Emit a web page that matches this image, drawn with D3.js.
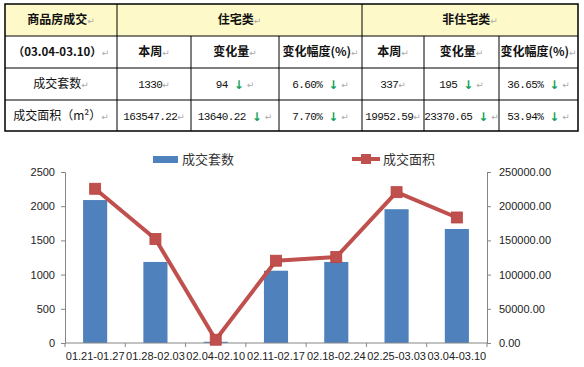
<!DOCTYPE html>
<html>
<head>
<meta charset="utf-8">
<script src="https://cdn.jsdelivr.net/npm/d3@7"></script>
<style>
  body { margin: 0; background: #fff; }
  svg { display: block; }
</style>
</head>
<body>
<div id="mycanvas"></div>
<script>
const width = 584;
const height = 367;

// ---- table data ----
const headTop = ["商品房成交", "住宅类", "非住宅类"];
const headSub = ["（03.04-03.10）", "本周", "变化量", "变化幅度(%)", "本周", "变化量", "变化幅度(%)"];
const rowNames = ["成交套数", "成交面积（m²）"];
const rowCount = ["1330", "94", "6.60%", "337", "195", "36.65%"];
const rowArea = ["163547.22", "13640.22", "7.70%", "19952.59", "23370.65", "53.94%"];
const rowDown = [false, true, true, false, true, true];

// ---- chart data ----
const weeks = ["01.21-01.27", "01.28-02.03", "02.04-02.10", "02.11-02.17", "02.18-02.24", "02.25-03.03", "03.04-03.10"];
const dealCount = [2090, 1185, 18, 1057, 1185, 1956, 1667];
const dealArea = [225500, 152000, 4800, 120300, 125700, 220510.68, 183499.81];
const leftTicks = [0, 500, 1000, 1500, 2000, 2500];
const rightTicks = [0, 50000, 100000, 150000, 200000, 250000];

const svg = d3
  .select("#mycanvas")
  .append("svg")
  .attr("width", width)
  .attr("height", height);

// ================= table =================
const colX = [5, 117, 191, 279, 362, 424, 499, 578];
const rowY = [4, 36, 68, 100, 131];
const cjk = "'Noto Sans CJK SC', sans-serif";
const mono = "'Liberation Mono', 'DejaVu Sans Mono', monospace";

const tbl = svg.append("g");

tbl.append("rect")
  .attr("x", colX[0]).attr("y", rowY[0])
  .attr("width", colX[7] - colX[0]).attr("height", rowY[1] - rowY[0])
  .attr("fill", "#fdf9c8");

const cell = (c0, c1, r, parts, opt = {}) => {
  const t = tbl.append("text")
    .attr("x", (colX[c0] + colX[c1]) / 2)
    .attr("y", (rowY[r] + rowY[r + 1]) / 2 + 1)
    .attr("text-anchor", "middle")
    .attr("dominant-baseline", "middle")
    .attr("font-family", opt.font || cjk)
    .attr("font-size", opt.size || 12)
    .attr("font-weight", opt.bold ? "bold" : "normal")
    .attr("fill", "#111");
  t.append("tspan").attr("letter-spacing", opt.spacing || 0).text(parts.text);
  if (parts.down) {
    t.append("tspan").attr("font-family", "'DejaVu Sans', sans-serif")
      .attr("font-weight", "bold").attr("fill", "#12a05a").attr("font-size", 12).text("↓");
  }
  t.append("tspan").attr("font-family", "'DejaVu Sans', sans-serif")
    .attr("font-weight", "normal").attr("fill", "#aaa").attr("font-size", 9).text(parts.down ? " ↵" : "↵");
};

// header row
cell(0, 1, 0, { text: headTop[0] }, { bold: true, size: 12 });
cell(1, 4, 0, { text: headTop[1] }, { bold: true, size: 12 });
cell(4, 7, 0, { text: headTop[2] }, { bold: true, size: 12 });
headSub.forEach((h, i) => cell(i, i + 1, 1, { text: h }, { bold: true, size: i === 0 ? 11.5 : 12 }));
cell(0, 1, 2, { text: rowNames[0] }, { size: 12 });
cell(0, 1, 3, { text: rowNames[1] }, { size: 12 });
rowCount.forEach((v, i) => cell(i + 1, i + 2, 2, { text: v + (rowDown[i] ? " " : ""), down: rowDown[i] }, { font: mono, size: 11, spacing: -0.6 }));
rowArea.forEach((v, i) => cell(i + 1, i + 2, 3, { text: v + (rowDown[i] ? " " : ""), down: rowDown[i] }, { font: mono, size: 11, spacing: -0.6 }));

// grid lines
rowY.slice(1, 4).forEach((y) => {
  tbl.append("line").attr("x1", colX[0]).attr("x2", colX[7]).attr("y1", y).attr("y2", y)
    .attr("stroke", "#000").attr("stroke-width", 1);
});
colX.slice(1, 7).forEach((x, i) => {
  const top = (i + 1 === 1 || i + 1 === 4) ? rowY[0] : rowY[1];
  tbl.append("line").attr("x1", x).attr("x2", x).attr("y1", top).attr("y2", rowY[4])
    .attr("stroke", "#000").attr("stroke-width", 1);
});
tbl.append("rect")
  .attr("x", colX[0]).attr("y", rowY[0])
  .attr("width", colX[7] - colX[0]).attr("height", rowY[4] - rowY[0])
  .attr("fill", "none").attr("stroke", "#000").attr("stroke-width", 1.5);

// ================= chart =================
const plotL = 65, plotR = 487, plotT = 172, plotB = 343;
const axisFont = "'Liberation Sans', Arial, sans-serif";

const x = d3.scaleBand().domain(weeks).range([plotL, plotR]).paddingInner(0.6).paddingOuter(0.3);
const yL = d3.scaleLinear().domain([0, 2500]).range([plotB, plotT]);
const yR = d3.scaleLinear().domain([0, 250000]).range([plotB, plotT]);
const step = x.step();

const chart = svg.append("g");

// bars
chart.selectAll("rect.bar")
  .data(weeks)
  .join("rect")
  .attr("class", "bar")
  .attr("x", (d) => x(d))
  .attr("width", x.bandwidth())
  .attr("y", (d, i) => yL(dealCount[i]))
  .attr("height", (d, i) => plotB - yL(dealCount[i]))
  .attr("fill", "#4f81bd");

// left axis
const axL = chart.append("g")
  .attr("transform", `translate(${plotL},0)`)
  .call(d3.axisLeft(yL).tickValues(leftTicks).tickFormat(d3.format("d")).tickSize(4).tickPadding(6));
// right axis
const axR = chart.append("g")
  .attr("transform", `translate(${plotR},0)`)
  .call(d3.axisRight(yR).tickValues(rightTicks).tickFormat(d3.format(".2f")).tickSize(4).tickPadding(8));
// bottom axis
const axB = chart.append("g")
  .attr("transform", `translate(0,${plotB})`)
  .call(d3.axisBottom(x).tickSize(0).tickPadding(9));
chart.append("g")
  .selectAll("line")
  .data(d3.range(weeks.length + 1))
  .join("line")
  .attr("x1", (d) => plotL + d * step)
  .attr("x2", (d) => plotL + d * step)
  .attr("y1", plotB)
  .attr("y2", plotB + 4)
  .attr("stroke", "#868686");

[axL, axR, axB].forEach((a) => {
  a.selectAll(".domain").attr("stroke", "#868686");
  a.selectAll(".tick line").attr("stroke", "#868686");
  a.selectAll("text").attr("font-family", axisFont).attr("font-size", 11).attr("fill", "#222");
});
axB.select(".domain").attr("d", `M${plotL},0H${plotR}`);

// line
const line = d3.line()
  .x((d, i) => x(weeks[i]) + x.bandwidth() / 2)
  .y((d) => yR(d));

chart.append("path")
  .datum(dealArea)
  .attr("d", line)
  .attr("fill", "none")
  .attr("stroke", "#c0504d")
  .attr("stroke-width", 4)
  .attr("stroke-linejoin", "round");

chart.selectAll("rect.mk")
  .data(dealArea)
  .join("rect")
  .attr("class", "mk")
  .attr("x", (d, i) => x(weeks[i]) + x.bandwidth() / 2 - 5.5)
  .attr("y", (d) => yR(d) - 5.5)
  .attr("width", 11)
  .attr("height", 11)
  .attr("fill", "#c0504d")
  .attr("stroke", "#b8433f")
  .attr("stroke-width", 0.8);

// legend
const lg = svg.append("g");
lg.append("rect").attr("x", 153).attr("y", 156).attr("width", 25).attr("height", 7).attr("fill", "#4f81bd");
lg.append("text").attr("x", 182).attr("y", 164).attr("font-family", cjk).attr("font-size", 13)
  .attr("fill", "#333").text("成交套数");
lg.append("line").attr("x1", 352).attr("x2", 380).attr("y1", 159).attr("y2", 159)
  .attr("stroke", "#c0504d").attr("stroke-width", 4);
lg.append("rect").attr("x", 361).attr("y", 154).attr("width", 10).attr("height", 10).attr("fill", "#c0504d");
lg.append("text").attr("x", 383).attr("y", 164).attr("font-family", cjk).attr("font-size", 13)
  .attr("fill", "#333").text("成交面积");
</script>
</body>
</html>
